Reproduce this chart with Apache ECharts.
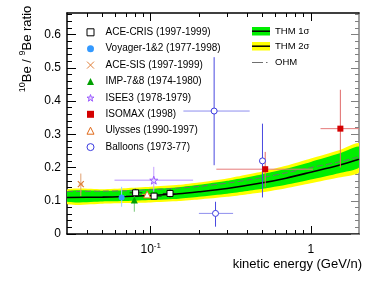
<!DOCTYPE html>
<html><head><meta charset="utf-8">
<script src="https://cdn.jsdelivr.net/npm/echarts@6/dist/echarts.min.js"></script>
<style>html,body{margin:0;padding:0;background:#fff}#c{width:382px;height:284px}</style>
</head><body><div id="c"></div>
<script>
const FONT = '"Liberation Sans", Arial, Helvetica, sans-serif';

// THM / OHM model curves (kinetic energy GeV/n -> 10Be/9Be)
const thmE   = [0.03, 0.05, 0.07, 0.1, 0.15, 0.2, 0.3, 0.5, 0.7, 1.0, 1.5, 2.0];
const thmMid = [0.110, 0.111, 0.113, 0.116, 0.121, 0.127, 0.137, 0.154, 0.168, 0.186, 0.207, 0.225];
const thm1Lo = [0.097, 0.098, 0.099, 0.102, 0.106, 0.112, 0.121, 0.136, 0.148, 0.164, 0.183, 0.200];
const thm1Hi = [0.129, 0.130, 0.132, 0.136, 0.141, 0.148, 0.160, 0.180, 0.196, 0.217, 0.242, 0.263];
const thm2Lo = [0.090, 0.091, 0.093, 0.095, 0.099, 0.104, 0.112, 0.126, 0.138, 0.153, 0.170, 0.185];
const thm2Hi = [0.134, 0.135, 0.138, 0.142, 0.148, 0.155, 0.167, 0.188, 0.205, 0.227, 0.252, 0.273];
const ohm    = [0.128, 0.129, 0.130, 0.133, 0.138, 0.143, 0.153, 0.170, 0.184, 0.200, 0.217, 0.232];

// measurements: [E, ratio, Elow, Ehigh, ratioLow, ratioHigh]
const aceCris  = [[0.0805, 0.124, 0.0738, 0.0887, 0.112, 0.136],
                  [0.105, 0.114, 0.0962, 0.117, 0.104, 0.124],
                  [0.132, 0.122, 0.119, 0.145, 0.110, 0.134]];
const voyager  = [[0.0658, 0.110, 0.0658, 0.0658, 0.082, 0.142]];
const aceSis   = [[0.0366, 0.150, 0.0355, 0.0378, 0.114, 0.182]];
const imp78    = [[0.079, 0.102, 0.079, 0.079, 0.067, 0.137]];
const isee3    = [[0.1045, 0.162, 0.0594, 0.184, 0.127, 0.202]];
const isomax   = [[0.519, 0.195, 0.257, 1.03, 0.142, 0.247],
                  [1.53, 0.317, 1.15, 2.2, 0.200, 0.434]];
const ulysses  = [[0.095, 0.119, 0.088, 0.103, 0.110, 0.128]];
const balloons = [[0.249, 0.370, 0.160, 0.415, 0.207, 0.532],
                  [0.254, 0.062, 0.200, 0.327, 0.022, 0.097],
                  [0.499, 0.220, 0.499, 0.499, 0.110, 0.332]];

// tick values
const xMajor = [0.1, 1];
const xMinor = [0.04, 0.05, 0.06, 0.07, 0.08, 0.09, 0.2, 0.3, 0.4, 0.5, 0.6, 0.7, 0.8, 0.9];
const yMajor = [0, 0.1, 0.2, 0.3, 0.4, 0.5, 0.6];
const yMinor = [0.02,0.04,0.06,0.08,0.12,0.14,0.16,0.18,0.22,0.24,0.26,0.28,0.32,0.34,0.36,0.38,0.42,0.44,0.46,0.48,0.52,0.54,0.56,0.58,0.62,0.64,0.66];

const X_MIN = 0.03, X_MAX = 2, Y_MIN = 0, Y_MAX = 0.665;

const STAR = 'path://M50,0L61.8,35.1L98.1,35.1L68.8,56.8L79.9,91.9L50,70.2L20.1,91.9L31.2,56.8L1.9,35.1L38.2,35.1Z';
const XMARK = 'path://M0,0L10,10M0,10L10,0';

const sets = [
  {name:'ACE-CRIS (1997-1999)', data:aceCris, symbol:'rect', size:6, style:{color:'#fff', borderColor:'#000', borderWidth:1}, v:'#222', h:'#222'},
  {name:'Voyager-1&2 (1977-1998)', data:voyager, symbol:'circle', size:6, style:{color:'#3399ff'}, v:'#9fd0ff', h:'#9fd0ff'},
  {name:'ACE-SIS (1997-1999)', data:aceSis, symbol:XMARK, size:6, style:{color:'rgba(0,0,0,0)', borderColor:'#e0803a', borderWidth:1.2}, v:'#e0a070', h:'#e0a070'},
  {name:'IMP-7&8 (1974-1980)', data:imp78, symbol:'triangle', size:7, style:{color:'#00a000'}, v:'#77c777', h:'#77c777'},
  {name:'ISEE3 (1978-1979)', data:isee3, symbol:STAR, size:8, style:{color:'#e6d6ff', borderColor:'#9c5cff', borderWidth:1}, v:'#c4a0ff', h:'#b890ff'},
  {name:'ISOMAX (1998)', data:isomax, symbol:'rect', size:6, style:{color:'#d40000'}, v:'#e06a6a', h:'#e67a7a'},
  {name:'Ulysses (1990-1997)', data:ulysses, symbol:'triangle', size:7, style:{color:'#fff', borderColor:'#e06a1a', borderWidth:1}, v:'#e08a4a', h:'#e08a4a'},
  {name:'Balloons (1973-77)', data:balloons, symbol:'circle', size:6, style:{color:'#fff', borderColor:'#3a3ae0', borderWidth:1}, v:'#4848e0', h:'#8e8eee'}
];

function band(name, lo, hi, color, z) {
  return {
    type:'custom', name:name, z:z, silent:true, clip:true,
    data:[[thmE[0], thmMid[0]]],
    renderItem: function(params, api) {
      const pts = [];
      for (let i = 0; i < thmE.length; i++) pts.push(api.coord([thmE[i], hi[i]]));
      for (let i = thmE.length - 1; i >= 0; i--) pts.push(api.coord([thmE[i], lo[i]]));
      return {type:'polygon', shape:{points:pts, smooth:0.2}, style:{fill:color, stroke:null}};
    }
  };
}

function pairs(ys) { return thmE.map((e, i) => [e, ys[i]]); }

const series = [
  band('THM 2σ', thm2Lo, thm2Hi, '#ffff00', 1),
  band('THM 1σ', thm1Lo, thm1Hi, '#00ee00', 1),
  {type:'line', name:'OHM', data:pairs(ohm), smooth:0.3, symbol:'none', z:2, silent:true,
   lineStyle:{color:'#6f6f6f', width:1, type:[6,3]}},
  {type:'line', name:'THM', data:pairs(thmMid), smooth:0.3, symbol:'none', z:2, silent:true,
   lineStyle:{color:'#000', width:1.6}}
];

sets.forEach(function(s) {
  series.push({
    type:'custom', name:'err ' + s.name, z:3, clip:true, silent:true,
    data:s.data,
    renderItem: function(params, api) {
      const x = api.value(0), y = api.value(1);
      const xl = api.value(2), xh = api.value(3), yl = api.value(4), yh = api.value(5);
      const ch = [];
      if (xh > xl) {
        const a = api.coord([xl, y]), b = api.coord([xh, y]);
        ch.push({type:'line', shape:{x1:a[0], y1:a[1], x2:b[0], y2:b[1]}, style:{stroke:s.h, lineWidth:1}});
      }
      if (yh > yl) {
        const a = api.coord([x, yl]), b = api.coord([x, yh]);
        ch.push({type:'line', shape:{x1:a[0], y1:a[1], x2:b[0], y2:b[1]}, style:{stroke:s.v, lineWidth:1}});
      }
      return {type:'group', children:ch};
    }
  });
});
sets.forEach(function(s) {
  series.push({
    type:'scatter', name:s.name, z:4, silent:true,
    data:s.data.map(d => [d[0], d[1]]),
    symbol:s.symbol, symbolSize:s.size,
    itemStyle:Object.assign({opacity:1}, s.style)
  });
});

function xAx(pos, ticks, len, labels, line, color) {
  return {
    type:'log', logBase:10, min:X_MIN, max:X_MAX, position:pos, gridIndex:0,
    axisLine:{show:line, onZero:false, lineStyle:{color:color, width:1.5}},
    axisTick:{show:true, inside:true, length:len, customValues:ticks, lineStyle:{color:color, width:1}},
    minorTick:{show:false},
    splitLine:{show:false},
    axisLabel:{show:labels, customValues:ticks, margin:8, color:'#000', fontFamily:FONT, fontSize:12,
      formatter:function(v){ return Math.abs(v - 0.1) < 1e-6 ? '{b|10}{s|-1}' : '{b|1}'; },
      rich:{b:{fontSize:12, lineHeight:16, fontFamily:FONT, color:'#000'},
            s:{fontSize:8, lineHeight:8, verticalAlign:'top', fontFamily:FONT, color:'#000'}}}
  };
}
function yAx(pos, ticks, len, labels, line, color) {
  return {
    type:'value', min:Y_MIN, max:Y_MAX, position:pos, gridIndex:0,
    axisLine:{show:line, onZero:false, lineStyle:{color:color, width:1.5}},
    axisTick:{show:true, inside:true, length:len, customValues:ticks, lineStyle:{color:color, width:1}},
    splitLine:{show:false},
    axisLabel:{show:labels, customValues:ticks, margin:6, color:'#000', fontFamily:FONT, fontSize:12,
      formatter:function(v){ return v === 0 ? '0' : (+v.toFixed(1)).toString(); }}
  };
}

const chart = echarts.init(document.getElementById('c'), null, {renderer:'canvas'});
chart.setOption({
  animation:false,
  backgroundColor:'#fff',
  textStyle:{fontFamily:FONT},
  grid:{left:67, right:23, top:13, bottom:50, containLabel:false, outerBoundsMode:'none'},
  xAxis:[
    xAx('bottom', xMajor, 8, true, true, '#000'),
    xAx('bottom', xMinor, 4, false, false, '#000'),
    xAx('top', xMajor, 8, false, true, '#000'),
    xAx('top', xMinor, 4, false, false, '#000')
  ],
  yAxis:[
    yAx('left', yMajor, 9, true, true, '#000'),
    yAx('left', yMinor, 5, false, false, '#000'),
    yAx('right', yMajor, 8, false, true, '#808080'),
    yAx('right', yMinor, 4, false, false, '#808080')
  ],
  legend:{
    orient:'vertical', left:86.5, top:26.3, padding:0, itemGap:4.4,
    itemWidth:7, itemHeight:7, selectedMode:false, symbolKeepAspect:true,
    itemStyle:{borderWidth:1},
    textStyle:{fontSize:10, lineHeight:12, color:'#000', fontFamily:FONT, padding:[0,0,0,6.5]},
    data:sets.map(s => s.name)
  },
  graphic:[
    {type:'text', x:27, y:49, rotation:Math.PI/2,
     style:{text:'{s|10}{m|Be / }{s|9}{m|Be ratio}', align:'center', verticalAlign:'middle',
       rich:{m:{fontSize:13, lineHeight:17, fontFamily:FONT, fill:'#000'},
             s:{fontSize:9, lineHeight:9, verticalAlign:'top', fontFamily:FONT, fill:'#000'}}}},
    {type:'text', x:362, y:264,
     style:{text:'kinetic energy (GeV/n)', align:'right', verticalAlign:'middle', font:'13px ' + FONT, fill:'#000'}},
    {type:'rect', shape:{x:252, y:27, width:18, height:8.5}, style:{fill:'#00ee00'}},
    {type:'line', shape:{x1:252, y1:31.2, x2:270, y2:31.2}, style:{stroke:'#000', lineWidth:1.5}},
    {type:'text', x:275, y:31.2, style:{text:'THM 1σ', verticalAlign:'middle', font:'9.5px ' + FONT, fill:'#000'}},
    {type:'rect', shape:{x:252, y:42, width:18, height:8.5}, style:{fill:'#ffff00'}},
    {type:'line', shape:{x1:252, y1:46.2, x2:270, y2:46.2}, style:{stroke:'#000', lineWidth:1.5}},
    {type:'text', x:275, y:46.2, style:{text:'THM 2σ', verticalAlign:'middle', font:'9.5px ' + FONT, fill:'#000'}},
    {type:'line', shape:{x1:252, y1:62.5, x2:263, y2:62.5}, style:{stroke:'#6f6f6f', lineWidth:1}},
    {type:'line', shape:{x1:266, y1:62.5, x2:267.5, y2:62.5}, style:{stroke:'#6f6f6f', lineWidth:1}},
    {type:'text', x:275, y:62.5, style:{text:'OHM', verticalAlign:'middle', font:'9.5px ' + FONT, fill:'#000'}}
  ],
  series:series
});
</script>
</body></html>
